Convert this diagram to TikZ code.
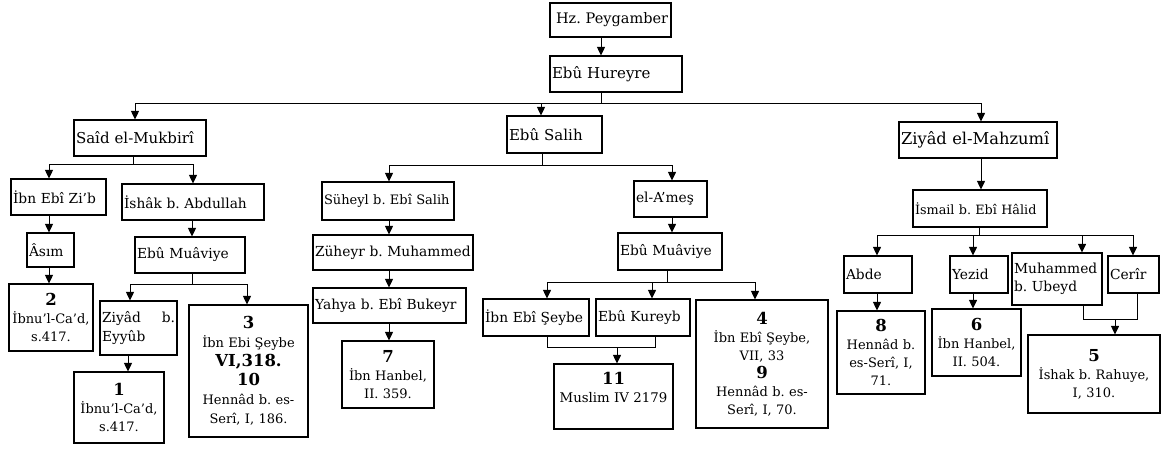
\documentclass[tikz,border=0pt]{standalone}
\usepackage{fontspec}
\setmainfont{DejaVu Serif}
\usetikzlibrary{arrows.meta}
\frenchspacing
\newcommand{\nmfont}{\fontsize{13.8}{15}\selectfont}
\newcommand{\topfont}{\fontsize{15}{17}\selectfont}
\newcommand{\reffont}{\fontsize{13}{18}\selectfont}
\newcommand{\num}[1]{{\fontsize{16.5}{18}\selectfont\bfseries #1}}
% name, x1, y1, x2, y2, align, font, text
\newcommand{\bx}[8]{%
  \pgfmathsetmacro\bxw{#4-#2}%
  \pgfmathsetmacro\bxh{#5-#3}%
  \pgfmathsetmacro\bxt{#4-#2-4}%
  \node[box, minimum width=\bxw pt, minimum height=\bxh pt, text width=\bxt pt, align=#6, font=#7]
    (#1) at ({(#2+#4)/2},{(#3+#5)/2}) {#8};}
\begin{document}
\begin{tikzpicture}[x=1pt,y=-1pt,
  box/.style={draw, line width=1.1pt, inner xsep=2pt, inner ysep=0pt},
  ln/.style={line width=0.9pt},
  arr/.style={line width=0.9pt, -{Triangle[length=8.5pt,width=8pt]}}]
\useasboundingbox (0,0) rectangle (1161,448);
% level 0-1
\bx{hz}{550}{3}{671}{37}{left}{\fontsize{14.5}{17}\selectfont}{\hspace*{4pt}Hz. Peygamber}
\bx{eh}{550}{56}{682}{92}{left}{\topfont}{Ebû Hureyre}
% level 2
\bx{said}{74}{120}{206}{156}{left}{\topfont}{Saîd el-Mukbirî}
\bx{es}{507}{116}{602}{153}{left}{\topfont}{Ebû Salih}
\bx{zm}{899}{122}{1057}{158}{left}{\fontsize{16.3}{18}\selectfont}{Ziyâd el-Mahzumî}
% level 3
\bx{ibz}{11}{179}{106}{215}{left}{\nmfont}{İbn Ebî Zi'b}
\bx{ish}{122}{184}{264}{220}{left}{\nmfont}{İshâk b. Abdullah}
\bx{sh}{322}{182}{454}{220}{left}{\fontsize{13}{15}\selectfont}{\mbox{Süheyl b. Ebî Salih}}
\bx{am}{634}{181}{707}{217}{left}{\nmfont}{el-A'meş}
\bx{ism}{913}{190}{1047}{227}{left}{\fontsize{12.8}{15}\selectfont}{İsmail b. Ebî Hâlid}
% level 4
\bx{asim}{27}{233}{74}{267}{left}{\nmfont}{Âsım}
\bx{em1}{135}{237}{245}{273}{left}{\nmfont}{Ebû Muâviye}
\bx{zuh}{313}{235}{473}{270}{left}{\nmfont}{Züheyr b. Muhammed}
\bx{em2}{618}{233}{722}{270}{left}{\nmfont}{Ebû Muâviye}
\bx{abde}{844}{256}{912}{293}{left}{\nmfont}{Abde}
\bx{yez}{950}{256}{1008}{293}{left}{\nmfont}{Yezid}
\bx{muh}{1012}{253}{1102}{305}{left}{\fontsize{13.8}{18}\selectfont}{Muhammed\\b. Ubeyd}
\bx{cer}{1108}{256}{1159}{293}{left}{\nmfont}{Cerîr}
% level 5
\bx{zie}{100}{301}{177}{355}{left}{\fontsize{13.8}{19}\selectfont}{Ziyâd\hfill b.\\Eyyûb}
\bx{yah}{313}{288}{466}{323}{left}{\nmfont}{Yahya b. Ebî Bukeyr}
\bx{ies}{483}{299}{589}{336}{left}{\nmfont}{İbn Ebî Şeybe}
\bx{ek}{596}{299}{690}{336}{left}{\nmfont}{Ebû Kureyb}
% reference boxes
\bx{r2}{9}{284}{93}{351}{center}{\reffont}{\num{2}\\İbnu'l-Ca'd,\\s.417.}
\bx{r1}{74}{372}{164}{443}{center}{\reffont}{\num{1}\\İbnu'l-Ca'd,\\s.417.}
\bx{r3}{189}{305}{308}{437}{center}{\fontsize{13}{19}\selectfont}{\num{3}\\İbn Ebi Şeybe\\\num{VI,318.}\\\num{10}\\Hennâd b. es-\\Serî, I, 186.}
\bx{r7}{342}{341}{434}{408}{center}{\reffont}{\num{7}\\İbn Hanbel,\\II. 359.}
\bx{r11}{554}{364}{673}{429}{center}{\fontsize{13.3}{18}\selectfont}{\num{11}\\\mbox{Muslim IV 2179}\\\mbox{}}
\bx{r4}{696}{300}{828}{428}{center}{\reffont}{\num{4}\\İbn Ebî Şeybe,\\VII, 33\\\num{9}\\Hennâd b. es-\\Serî, I, 70.}
\bx{r8}{837}{311}{925}{394}{center}{\reffont}{\num{8}\\Hennâd b.\\es-Serî, I,\\71.}
\bx{r6}{932}{309}{1021}{376}{center}{\reffont}{\num{6}\\İbn Hanbel,\\II. 504.}
\bx{r5}{1028}{335}{1160}{413}{center}{\reffont}{\num{5}\\İshak b. Rahuye,\\I, 310.}
% junction coordinates
\coordinate (jA) at (601,103);
\coordinate (bA1) at (135,103);
\coordinate (bA2) at (541,103);
\coordinate (bA3) at (981,103);
\coordinate (jB) at (133,164);
\coordinate (bB1) at (49,164);
\coordinate (bB2) at (193,164);
\coordinate (jC) at (192,284);
\coordinate (bC1) at (130,284);
\coordinate (bC2) at (247,284);
\coordinate (jD) at (542,165);
\coordinate (bD1) at (389,165);
\coordinate (bD2) at (672,165);
\coordinate (jE) at (667,282);
\coordinate (bE1) at (547,282);
\coordinate (bE2) at (652,282);
\coordinate (bE3) at (755,282);
\coordinate (mE1) at (547,347);
\coordinate (mE2) at (655,347);
\coordinate (mE) at (617,347);
\coordinate (jF) at (979,235);
\coordinate (bF1) at (877,235);
\coordinate (bF2) at (973,235);
\coordinate (bF3) at (1082,235);
\coordinate (bF4) at (1133,235);
\coordinate (mF1) at (1083,319);
\coordinate (mF2) at (1137,319);
\coordinate (mF) at (1115,319);
% connectors: top
\draw[arr] (hz.south -| jA) -- (eh.north -| jA);
\draw[ln] (eh.south -| jA) -- (jA);
\draw[ln] (bA1) -- (bA3);
\draw[arr] (bA1) -- (said.north -| bA1);
\draw[arr] (bA2) -- (es.north -| bA2);
\draw[arr] (bA3) -- (zm.north -| bA3);
% Said branch
\draw[ln] (said.south -| jB) -- (jB);
\draw[ln] (bB1) -- (bB2);
\draw[arr] (bB1) -- (ibz.north -| bB1);
\draw[arr] (bB2) -- (ish.north -| bB2);
\draw[arr] (ibz.south -| bB1) -- (asim.north -| bB1);
\draw[arr] (asim.south -| bB1) -- (r2.north -| bB1);
\draw[arr] (ish.south -| jC) -- (em1.north -| jC);
\draw[ln] (em1.south -| jC) -- (jC);
\draw[ln] (bC1) -- (bC2);
\draw[arr] (bC1) -- (zie.north -| bC1);
\draw[arr] (bC2) -- (r3.north -| bC2);
\draw[arr] ([xshift=-2pt]zie.south -| bC1) -- ([xshift=-2pt]r1.north -| bC1);
% Ebu Salih branch
\draw[ln] (es.south -| jD) -- (jD);
\draw[ln] (bD1) -- (bD2);
\draw[arr] (bD1) -- (sh.north -| bD1);
\draw[arr] (bD2) -- (am.north -| bD2);
\draw[arr] (sh.south -| bD1) -- (zuh.north -| bD1);
\draw[arr] (zuh.south -| bD1) -- (yah.north -| bD1);
\draw[arr] (yah.south -| bD1) -- (r7.north -| bD1);
\draw[arr] (am.south -| bD2) -- (em2.north -| bD2);
\draw[ln] (em2.south -| jE) -- (jE);
\draw[ln] (bE1) -- (bE3);
\draw[arr] (bE1) -- (ies.north -| bE1);
\draw[arr] (bE2) -- (ek.north -| bE2);
\draw[arr] (bE3) -- (r4.north -| bE3);
\draw[ln] (ies.south -| mE1) -- (mE1) -- (mE2) -- (ek.south -| mE2);
\draw[arr] (mE) -- (r11.north -| mE);
% Ziyad branch
\draw[arr] (zm.south -| bA3) -- (ism.north -| bA3);
\draw[ln] (ism.south -| jF) -- (jF);
\draw[ln] (bF1) -- (bF4);
\draw[arr] (bF1) -- (abde.north -| bF1);
\draw[arr] (bF2) -- (yez.north -| bF2);
\draw[arr] (bF3) -- (muh.north -| bF3);
\draw[arr] (bF4) -- (cer.north -| bF4);
\draw[arr] (abde.south -| bF1) -- (r8.north -| bF1);
\draw[arr] (yez.south -| bF2) -- (r6.north -| bF2);
\draw[ln] (muh.south -| mF1) -- (mF1) -- (mF2) -- (cer.south -| mF2);
\draw[arr] (mF) -- (r5.north -| mF);
\end{tikzpicture}
\end{document}
